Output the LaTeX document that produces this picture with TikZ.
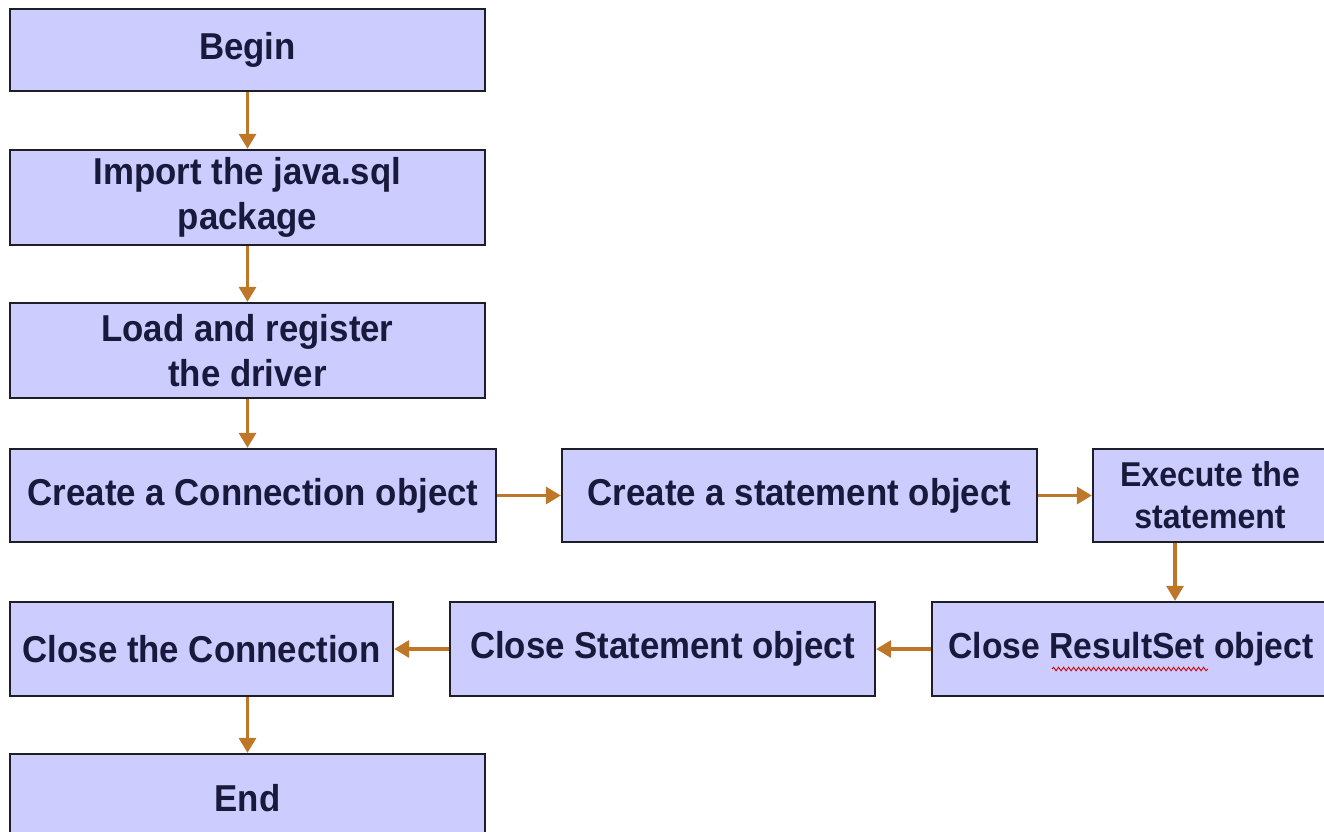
\documentclass[tikz,border=0pt]{standalone}
\usepackage{fontspec}
\setmainfont{Liberation Sans}[FakeStretch=0.93]
\usetikzlibrary{arrows.meta, decorations.pathmorphing}
\definecolor{boxfill}{RGB}{204,204,255}
\definecolor{boxline}{RGB}{30,30,40}
\definecolor{boxtext}{RGB}{25,25,60}
\definecolor{flowarrow}{RGB}{190,118,40}
\tikzset{
    ->, % every connector is directed
    >={Triangle[length=0.3cm, width=0.34cm]}, % filled arrow heads
    block/.style={draw=boxline, line width=1.3pt, fill=boxfill, text=boxtext,
        minimum width=9.5cm, minimum height=1.88cm, inner sep=0pt, align=center,
        font=\bfseries\fontsize{21.3}{25.6}\selectfont}, % the process boxes
    flow/.style={color=flowarrow, line width=1.8pt}, % the orange connectors
}

\begin{document}
\begin{tikzpicture}[
    smallText/.style={font=\bfseries\fontsize{19.6}{24}\selectfont},
    midText/.style={font=\bfseries\fontsize{20.6}{24}\selectfont},
    squiggle/.style={-, draw=red!80!black, line width=0.5pt, decorate,
        decoration={snake, amplitude=0.035cm, segment length=0.1cm}},
]
\useasboundingbox (0,0) rectangle (26.48,-16.64);
\clip (0,0) rectangle (26.48,-16.64);
\fill[white] (0,0) rectangle (26.48,-16.64);

\node[block, minimum height=1.64cm] (begin) at (4.95,-1.0) {Begin};
\node[block, node distance=2.95cm, below of=begin, minimum height=1.9cm] (import) {Import the java.sql\\package};
\node[block, node distance=3.06cm, below of=import, minimum height=1.9cm] (load) {Load and register\\the driver};
\node[block, node distance=2.9cm, below of=load, xshift=0.11cm, minimum width=9.72cm, minimum height=1.86cm] (conn) {Create a Connection object};
\node[block, node distance=10.93cm, right of=conn, minimum height=1.86cm] (stmt) {Create a statement object};
\node[block, node distance=8.21cm, right of=stmt, minimum width=4.68cm, minimum height=1.86cm, smallText] (exec) {Execute the\\statement};
\node[block, node distance=3.07cm, below of=exec, xshift=-1.58cm, minimum width=7.96cm, midText] (rs) {Close ResultSet object};
\node[block, node distance=9.37cm, left of=rs, minimum width=8.5cm] (cstmt) {Close Statement object};
\node[block, node distance=9.22cm, left of=cstmt, minimum width=7.66cm] (cconn) {Close the Connection};
\node[block, node distance=2.98cm, below of=cconn, xshift=0.92cm, minimum height=1.76cm] (end) {End};

\path[flow]
    (begin) edge (import)
    (import) edge (load)
    (load) edge (load |- conn.north)
    (conn) edge (stmt)
    (stmt) edge (exec)
    ([xshift=-0.7cm]exec.south) edge ([xshift=-0.7cm]exec.south |- rs.north)
    (rs) edge (cstmt)
    (cstmt) edge (cconn)
    (end.north |- cconn.south) edge (end.north);

\draw[squiggle] ([shift={(-1.58,-0.4)}]rs.center) -- ([shift={(1.54,-0.4)}]rs.center);
\end{tikzpicture}
\end{document}
